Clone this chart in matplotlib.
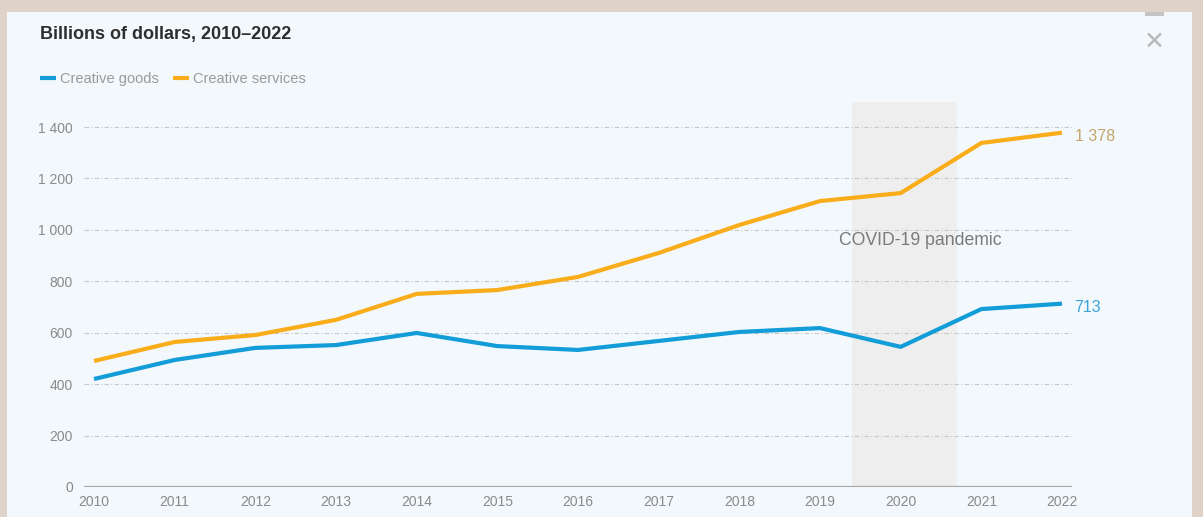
import matplotlib.pyplot as plt
from matplotlib.patches import Rectangle

plt.rcParams['font.family'] = ['Liberation Sans', 'DejaVu Sans']

years = list(range(2010, 2023))
goods = [420, 494, 541, 552, 599, 548, 533, 568, 603, 618, 545, 692, 713]
services = [490, 564, 591, 650, 751, 766, 817, 910, 1019, 1112, 1143, 1338, 1378]
y_ticks = [0, 200, 400, 600, 800, 1000, 1200, 1400]
y_labels = ['0', '200', '400', '600', '800', '1 000', '1 200', '1 400']
covid_span = (2019.4, 2020.7)

blue = '#129dd9'
orange = '#f9ad1a'
W, H = 1203, 517

fig = plt.figure(figsize=(W / 100, H / 100), dpi=100, facecolor='#dfd2c8')
# light panel behind the chart
fig.patches.append(Rectangle((7 / W, 0), (1192 - 7) / W, (H - 12) / H,
                             transform=fig.transFigure, facecolor='#f3f8fc',
                             edgecolor='none', zorder=-5))
# bit of the toolbar icon cut off at the top
fig.patches.append(Rectangle((1145 / W, 1 - 16 / H), 19 / W, 4 / H,
                             transform=fig.transFigure, facecolor='#c4c4c4',
                             edgecolor='none', zorder=-4))

ax = fig.add_axes([84 / W, 30 / H, (1072 - 84) / W, (487 - 101.3) / H])
ax.set_zorder(2)
ax.set_facecolor('none')
px = 80.67
ax.set_xlim(2010 - 10 / px, 2022 + 10 / px)
ax.set_ylim(0, 1500)

ax.axvspan(covid_span[0], covid_span[1], ymin=0, ymax=1497 / 1500,
           color='#eeeeee', zorder=0, lw=0)
ax.text(2019.24, 957, 'COVID-19 pandemic', fontsize=12.7, color='#7a7a7a',
        va='center', ha='left')

for t in y_ticks[1:]:
    ax.axhline(t, color='#c8c8c8', lw=0.8, ls=(0, (4, 2, 1, 2)), zorder=1)
ax.axhline(0, color='#a8a8a8', lw=1.6, zorder=2)

ax.plot(years, goods, color=blue, lw=3, label='Creative goods', zorder=3,
        solid_capstyle='butt')
ax.plot(years, services, color=orange, lw=3, label='Creative services', zorder=3,
        solid_capstyle='butt')

ax.annotate('1 378', (years[-1], services[-1]), xytext=(9, -3),
            textcoords='offset points', color='#c4a56c', fontsize=11.5,
            va='center', ha='left')
ax.annotate('713', (years[-1], goods[-1]), xytext=(9, -3),
            textcoords='offset points', color='#3aa4d8', fontsize=11.5,
            va='center', ha='left')

ax.set_xticks(years)
ax.set_xticklabels([str(y) for y in years])
ax.set_yticks(y_ticks)
ax.set_yticklabels(y_labels)
ax.tick_params(length=0, labelsize=10, labelcolor='#8a8a8a')
ax.tick_params(axis='y', pad=8)
ax.tick_params(axis='x', pad=6)
for s in ax.spines.values():
    s.set_visible(False)

fig.text(40 / W, 1 - 35 / H, 'Billions of dollars, 2010\u20132022', fontsize=13,
         fontweight='bold', color='#2e2e2e', va='center', ha='left')

leg = ax.legend(loc='center left', bbox_to_anchor=(27 / W, 1 - 79 / H),
                bbox_transform=fig.transFigure, ncol=2, frameon=False,
                handlelength=1.1, handletextpad=0.25, columnspacing=1.0,
                fontsize=10.5, labelcolor='#9a9a9a')
for line in leg.get_lines():
    line.set_linewidth(3)

# close icon at top right
fig.text(1154 / W, 1 - 42 / H, '\u2715', fontsize=18, color='#b8b8b8',
         ha='center', va='center', family=['DejaVu Sans'], fontweight='bold')

fig.savefig('out.png', dpi=100, facecolor=fig.get_facecolor())
